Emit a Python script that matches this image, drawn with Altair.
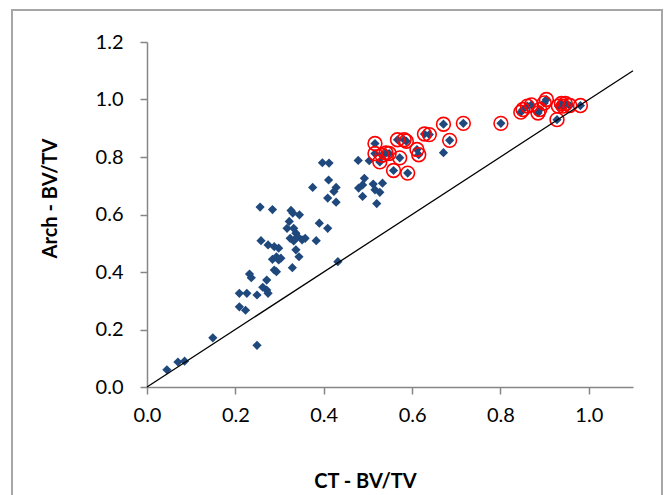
import altair as alt
import pandas as pd

# CT BV/TV (x) vs Arch BV/TV (y) — unmarked points
plain_x = [0.045, 0.070, 0.085, 0.149, 0.249, 0.209, 0.226, 0.209, 0.223, 0.232,
           0.236, 0.249, 0.262, 0.271, 0.271, 0.274, 0.256, 0.284, 0.258, 0.274,
           0.288, 0.298, 0.284, 0.293, 0.288, 0.293, 0.298, 0.303, 0.329, 0.326,
           0.330, 0.345, 0.322, 0.317, 0.332, 0.324, 0.332, 0.337, 0.341, 0.351,
           0.358, 0.337, 0.344, 0.383, 0.390, 0.375, 0.397, 0.412, 0.411, 0.409,
           0.409, 0.423, 0.428, 0.428, 0.432, 0.478, 0.479, 0.488, 0.492, 0.488,
           0.503, 0.512, 0.516, 0.527, 0.520, 0.533, 0.671]
plain_y = [0.060, 0.087, 0.090, 0.171, 0.145, 0.326, 0.326, 0.279, 0.267, 0.393,
           0.380, 0.320, 0.347, 0.372, 0.337, 0.326, 0.626, 0.617, 0.509, 0.494,
           0.488, 0.483, 0.444, 0.453, 0.407, 0.401, 0.442, 0.448, 0.415, 0.614,
           0.605, 0.599, 0.576, 0.552, 0.552, 0.517, 0.508, 0.535, 0.523, 0.512,
           0.517, 0.477, 0.453, 0.509, 0.570, 0.694, 0.780, 0.779, 0.720, 0.657,
           0.552, 0.680, 0.694, 0.643, 0.436, 0.788, 0.692, 0.703, 0.726, 0.663,
           0.787, 0.706, 0.686, 0.677, 0.638, 0.709, 0.815]

# Points highlighted with red circles
marked_x = [0.516, 0.516, 0.527, 0.532, 0.541, 0.548, 0.558, 0.567, 0.572, 0.582,
            0.587, 0.590, 0.611, 0.615, 0.628, 0.639, 0.671, 0.685, 0.716, 0.801,
            0.846, 0.851, 0.861, 0.870, 0.885, 0.889, 0.899, 0.904, 0.928, 0.931,
            0.938, 0.942, 0.947, 0.957, 0.981]
marked_y = [0.847, 0.812, 0.783, 0.806, 0.814, 0.812, 0.753, 0.860, 0.797, 0.860,
            0.855, 0.744, 0.826, 0.808, 0.880, 0.878, 0.914, 0.858, 0.917, 0.917,
            0.956, 0.965, 0.977, 0.981, 0.953, 0.965, 0.988, 1.000, 0.930, 0.977,
            0.986, 0.977, 0.986, 0.979, 0.979]

# identity line
line_x = [0.0, 1.1]
line_y = [0.0, 1.1]

x_ticks = [0.0, 0.2, 0.4, 0.6, 0.8, 1.0]
y_ticks = [0.0, 0.2, 0.4, 0.6, 0.8, 1.0, 1.2]

df_all = pd.DataFrame({"x": plain_x + marked_x, "y": plain_y + marked_y})
df_marked = pd.DataFrame({"x": marked_x, "y": marked_y})
df_line = pd.DataFrame({"x": line_x, "y": line_y})

FONT = "Lato"
GRAY = "#868686"

xscale = alt.Scale(domain=[0, 1.1], nice=False, zero=True)
yscale = alt.Scale(domain=[0, 1.2], nice=False, zero=True)

xaxis = alt.Axis(values=x_ticks, format=".1f", title="CT - BV/TV", grid=False,
                 domainColor=GRAY, domainWidth=1.5, tickColor=GRAY, tickWidth=1.5,
                 tickSize=7, labelFont=FONT, labelFontSize=20, labelColor="black",
                 labelPadding=11, labelFlush=False,
                 titleFont=FONT, titleFontSize=20, titleFontWeight="bold",
                 titleColor="black", titleX=218, titleY=94, titleBaseline="middle",
                 titleAlign="center")
yaxis = alt.Axis(values=y_ticks, format=".1f", title="Arch - BV/TV", grid=False,
                 domainColor=GRAY, domainWidth=1.5, tickColor=GRAY, tickWidth=1.5,
                 tickSize=7, labelFont=FONT, labelFontSize=20, labelColor="black",
                 labelPadding=17, labelFlush=False,
                 titleFont=FONT, titleFontSize=20, titleFontWeight="bold",
                 titleColor="black", titleX=-97, titleY=156, titleBaseline="middle",
                 titleAlign="center")

border = alt.Chart(pd.DataFrame({"a": [0]})).mark_rect(
    filled=False, stroke="#a6a6a6", strokeWidth=2, clip=False
).encode(x=alt.value(-135), x2=alt.value(515), y=alt.value(-32), y2=alt.value(463))

diamonds = alt.Chart(df_all).mark_point(
    shape="diamond", filled=True, size=85, color="#1f497d", opacity=1
).encode(
    x=alt.X("x:Q", scale=xscale, axis=xaxis),
    y=alt.Y("y:Q", scale=yscale, axis=yaxis),
)

circles = alt.Chart(df_marked).mark_point(
    shape="circle", filled=False, size=190, color="#ff0000", strokeWidth=1.6, opacity=1
).encode(x=alt.X("x:Q", scale=xscale), y=alt.Y("y:Q", scale=yscale))

line = alt.Chart(df_line).mark_line(color="black", strokeWidth=1.3).encode(
    x=alt.X("x:Q", scale=xscale), y=alt.Y("y:Q", scale=yscale)
)

chart = alt.layer(border, diamonds, circles, line).properties(
    width=486, height=345,
    autosize=alt.AutoSizeParams(type="none"),
    padding={"left": 147, "top": 42, "right": 34, "bottom": 108},
    background="white",
).configure_view(stroke=None)

chart.save("out.html", embed_options={"renderer": "svg", "actions": False})
